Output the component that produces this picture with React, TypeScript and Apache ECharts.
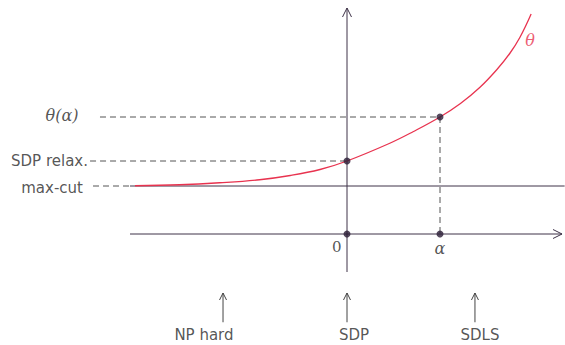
import React, { useEffect, useRef } from "react";
import * as echarts from "echarts";

// θ curve (x: 0 = SDP axis, 1 = α ; y: 0 = max-cut, 1 = SDP relax.)
const curveX = [-2.28, -1.8, -1.37, -0.94, -0.61, -0.29, 0, 0.46, 0.71, 1.0, 1.22, 1.43, 1.61, 1.75, 1.86, 1.98];
const curveY = [0.01, 0.05, 0.13, 0.25, 0.42, 0.66, 1.0, 1.71, 2.17, 2.76, 3.3, 3.95, 4.65, 5.3, 5.95, 6.88];

// marked points
const markerX = [0, 1, 0, 1];
const markerY = [1, 2.76, -1.92, -1.92];

// levels on the left
const levelNames = ["θ(α)", "SDP relax.", "max-cut"];
const levelValues = [2.76, 1, 0];
const levelEndX = [1, 0, -2.333];

// horizontal axis ticks
const tickNames = ["0", "α"];
const tickValues = [0, 1];

// methods at the bottom
const methodNames = ["NP hard", "SDP", "SDLS"];
const methodArrowX = [-1.333, 0, 1.376];
const methodLabelX = [-1.538, 0.075, 1.43];

const AXIS_Y = -1.92;
const AXIS_COLOR = "#3e3248";
const DASH_COLOR = "#555555";
const RED = "#e8334f";
const TEXT = "#2a2a2a";

export default function App() {
  const ref = useRef<HTMLDivElement>(null);
  useEffect(() => {
    if (!ref.current) return;
    const chart = echarts.init(ref.current, null, { renderer: "svg" });

    // segments: [x1, y1, x2, y2, arrow, dashed, kind]
    const segs: number[][] = [];
    segs.push([-2.333, AXIS_Y, 2.312, AXIS_Y, 1, 0, 0]);
    segs.push([0, -3.44, 0, 7.12, 1, 0, 0]);
    segs.push([-2.333, levelValues[2], 2.34, levelValues[2], 0, 0, 0]);
    const dashStart = [-2.656, -2.763, -2.731];
    levelValues.forEach((v, i) => segs.push([dashStart[i], v, levelEndX[i], v, 0, 1, 1]));
    segs.push([tickValues[1], levelValues[0], tickValues[1], AXIS_Y, 0, 1, 1]);
    methodArrowX.forEach((x) => segs.push([x, -5.45, x, -4.28, 1, 0, 2]));

    const option: any = {
      animation: false,
      grid: { left: 0, right: 0, top: 0, bottom: 0 },
      xAxis: { type: "value", min: -347 / 93, max: 218 / 93, show: false },
      yAxis: { type: "value", min: -159 / 25, max: 186 / 25, show: false },
      series: [
        {
          type: "custom",
          clip: false,
          silent: true,
          encode: { x: [0, 2], y: [1, 3] },
          data: segs,
          renderItem: (params: any, api: any) => {
            const p1 = api.coord([api.value(0), api.value(1)]);
            const p2 = api.coord([api.value(2), api.value(3)]);
            const arrow = api.value(4) === 1;
            const dashed = api.value(5) === 1;
            const kind = api.value(6);
            const stroke = kind === 0 ? AXIS_COLOR : kind === 1 ? DASH_COLOR : "#444";
            const children: any[] = [
              {
                type: "line",
                shape: { x1: p1[0], y1: p1[1], x2: p2[0], y2: p2[1] },
                style: { stroke, lineWidth: 1, lineDash: dashed ? [6, 4] : null },
              },
            ];
            if (arrow) {
              const dx = p2[0] - p1[0];
              const dy = p2[1] - p1[1];
              const len = Math.sqrt(dx * dx + dy * dy) || 1;
              const ux = dx / len, uy = dy / len;
              const nx = -uy, ny = ux;
              const hl = kind === 2 ? 7 : 9;
              const hw = kind === 2 ? 3.5 : 4.5;
              children.push({
                type: "polyline",
                shape: {
                  points: [
                    [p2[0] - hl * ux + hw * nx, p2[1] - hl * uy + hw * ny],
                    [p2[0], p2[1]],
                    [p2[0] - hl * ux - hw * nx, p2[1] - hl * uy - hw * ny],
                  ],
                },
                style: { stroke, lineWidth: 1, fill: "none" },
              });
            }
            return { type: "group", children };
          },
          z: 1,
        },
        {
          type: "line",
          data: curveX.map((x, i) => [x, curveY[i]]),
          smooth: 0.4,
          showSymbol: false,
          lineStyle: { color: RED, width: 1.3 },
          silent: true,
          z: 2,
        },
        {
          type: "scatter",
          data: markerX.map((x, i) => [x, markerY[i]]),
          symbolSize: 7,
          itemStyle: { color: "#2b1d36" },
          silent: true,
          z: 3,
        },
        {
          type: "scatter",
          symbolSize: 0,
          silent: true,
          z: 4,
          data: [
            {
              value: [-3.065, 2.84],
              label: {
                show: true,
                position: "inside",
                formatter: levelNames[0],
                fontFamily: "DejaVu Serif",
                fontStyle: "italic",
                fontSize: 16,
                color: TEXT,
              },
            },
            {
              value: [-2.785, levelValues[1]],
              label: { show: true, position: "left", distance: 0, formatter: levelNames[1] },
            },
            {
              value: [-2.839, -0.08],
              label: { show: true, position: "left", distance: 0, formatter: levelNames[2] },
            },
            {
              value: [-0.11, -2.44],
              label: {
                show: true,
                position: "inside",
                formatter: tickNames[0],
                fontFamily: "DejaVu Serif",
                fontSize: 15,
                color: TEXT,
              },
            },
            {
              value: [tickValues[1], -2.48],
              label: {
                show: true,
                position: "inside",
                formatter: tickNames[1],
                fontFamily: "DejaVu Serif",
                fontStyle: "italic",
                fontSize: 16,
                color: TEXT,
              },
            },
            {
              value: [1.968, 5.84],
              label: {
                show: true,
                position: "inside",
                formatter: "θ",
                fontFamily: "DejaVu Serif",
                fontStyle: "italic",
                fontSize: 16,
                color: RED,
              },
            },
            ...methodNames.map((n, i) => ({
              value: [methodLabelX[i], -5.96],
              label: { show: true, position: "inside", formatter: n, lineHeight: 16 },
            })),
          ],
          label: {
            show: true,
            fontFamily: "DejaVu Sans",
            fontSize: 15,
            color: TEXT,
          },
        },
      ],
    };
    chart.setOption(option);
    return () => chart.dispose();
  }, []);
  return (
    <div
      ref={ref}
      style={{ position: "fixed", left: 0, top: 0, width: 565, height: 345, background: "#fff" }}
    />
  );
}
